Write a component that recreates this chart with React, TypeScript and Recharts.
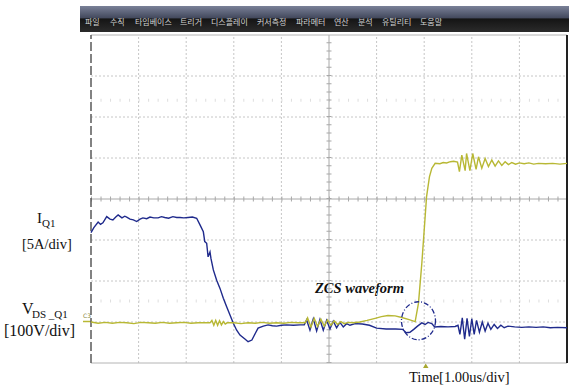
import React from "react";
import { LineChart, Line, XAxis, YAxis, ReferenceLine, ReferenceDot } from "recharts";

// time in µs (1.00 µs/div), amplitude in screen divisions
const timeDivs = [0, 1, 2, 3, 4, 5, 6, 7, 8, 9, 10];
const ampDivs = [0, 1, 2, 3, 4, 5, 6, 7, 8];
const faintTickRows = [6.41, 1.51];

const menuItems = ["파일", "수직", "타임베이스", "트리거", "디스플레이", "커서측정", "파라메터", "연산", "분석", "유틸리티", "도움말"];
const menuX = [85, 110, 135, 180, 211, 257, 296, 334, 358, 382, 420];

// I_Q1 (blue) trace: [time, div]
const iq1Trace: [number, number][] = [
  [0.0, 3.18], [0.06, 3.3], [0.15, 3.44], [0.2, 3.38], [0.25, 3.42], [0.33, 3.57], [0.4, 3.51], [0.46, 3.49],
  [0.52, 3.56], [0.57, 3.61], [0.65, 3.54], [0.71, 3.58], [0.75, 3.56], [0.82, 3.51], [0.89, 3.49], [0.96, 3.45],
  [1.03, 3.51], [1.09, 3.54], [1.17, 3.52], [1.24, 3.56], [1.32, 3.54], [1.41, 3.54], [1.48, 3.57], [1.55, 3.55],
  [1.63, 3.53], [1.72, 3.57], [1.8, 3.55], [1.87, 3.55], [1.95, 3.54], [2.04, 3.55], [2.13, 3.56], [2.22, 3.53],
  [2.29, 3.37], [2.36, 3.2], [2.39, 2.96], [2.43, 2.92], [2.46, 2.59], [2.5, 2.71], [2.52, 2.55], [2.57, 2.27],
  [2.64, 2.02], [2.71, 1.82], [2.78, 1.58], [2.85, 1.37], [2.92, 1.17], [2.99, 0.97], [3.06, 0.8], [3.13, 0.68],
  [3.24, 0.58], [3.3, 0.52], [3.38, 0.56], [3.45, 0.72], [3.51, 0.85], [3.62, 0.9], [3.72, 0.93], [3.81, 0.91],
  [3.9, 0.9], [4.0, 0.92], [4.11, 0.93], [4.25, 0.92], [4.39, 0.93], [4.48, 0.93], [4.53, 1.05], [4.6, 0.8],
  [4.67, 1.08], [4.74, 0.78], [4.81, 1.06], [4.88, 0.8], [4.95, 1.04], [5.02, 0.83], [5.09, 1.02], [5.16, 0.86],
  [5.23, 0.99], [5.3, 0.88], [5.37, 0.96], [5.44, 0.92], [5.55, 0.96], [5.7, 0.95], [5.85, 0.92], [6.0, 0.85],
  [6.2, 0.83], [6.4, 0.83], [6.55, 0.82], [6.62, 0.74], [6.7, 0.75], [6.78, 0.82], [6.86, 0.9], [6.95, 0.98],
  [7.02, 0.94], [7.08, 0.99], [7.16, 0.96], [7.22, 0.88], [7.35, 0.89], [7.5, 0.88], [7.65, 0.89], [7.71, 0.92],
  [7.75, 0.7], [7.8, 1.1], [7.85, 0.58], [7.9, 1.09], [7.95, 0.65], [8.0, 1.08], [8.05, 0.7], [8.1, 1.04],
  [8.16, 0.75], [8.22, 1.0], [8.28, 0.78], [8.34, 0.97], [8.4, 0.82], [8.47, 0.94], [8.54, 0.84], [8.61, 0.92],
  [8.68, 0.86], [8.76, 0.9], [8.9, 0.88], [9.05, 0.87], [9.2, 0.88], [9.35, 0.87], [9.5, 0.88], [9.65, 0.86],
  [9.8, 0.87], [10.0, 0.86],
];

// V_DS_Q1 (yellow) trace: [time, div]
const vdsTrace: [number, number][] = [
  [0.0, 1.0], [0.15, 0.97], [0.3, 0.99], [0.45, 0.97], [0.6, 0.99], [0.75, 0.98], [0.9, 0.96], [1.05, 0.99],
  [1.2, 0.98], [1.35, 0.97], [1.5, 0.99], [1.65, 0.97], [1.8, 0.98], [1.95, 0.99], [2.1, 0.97], [2.25, 0.98],
  [2.4, 0.98], [2.5, 0.98], [2.54, 1.04], [2.58, 0.92], [2.62, 1.04], [2.66, 0.92], [2.7, 1.03], [2.74, 0.93],
  [2.78, 1.01], [2.82, 0.95], [2.86, 0.98], [3.0, 0.98], [3.15, 0.96], [3.3, 0.98], [3.45, 0.97], [3.6, 0.99],
  [3.75, 0.97], [3.9, 0.98], [4.05, 0.97], [4.2, 0.99], [4.35, 0.98], [4.5, 0.98], [4.55, 1.1], [4.62, 0.88],
  [4.69, 1.09], [4.76, 0.89], [4.83, 1.07], [4.9, 0.9], [4.97, 1.05], [5.04, 0.92], [5.11, 1.03], [5.18, 0.94],
  [5.25, 1.01], [5.32, 0.96], [5.4, 0.99], [5.5, 0.98], [5.65, 1.0], [5.8, 1.04], [5.97, 1.09], [6.1, 1.13],
  [6.24, 1.16], [6.39, 1.15], [6.53, 1.11], [6.7, 1.05], [6.81, 1.01], [6.88, 1.46], [6.95, 2.43], [7.0, 3.24],
  [7.05, 4.06], [7.11, 4.54], [7.16, 4.75], [7.23, 4.87], [7.33, 4.86], [7.4, 4.89], [7.47, 4.88], [7.55, 4.91],
  [7.62, 4.92], [7.7, 4.9], [7.74, 4.67], [7.79, 5.07], [7.86, 4.69], [7.89, 5.11], [7.96, 4.69], [8.02, 5.11],
  [8.09, 4.72], [8.14, 5.03], [8.21, 4.75], [8.28, 4.99], [8.35, 4.79], [8.42, 4.95], [8.49, 4.8], [8.56, 4.93],
  [8.63, 4.82], [8.7, 4.91], [8.77, 4.84], [8.84, 4.89], [8.92, 4.85], [9.0, 4.88], [9.1, 4.86], [9.2, 4.88],
  [9.3, 4.85], [9.4, 4.87], [9.55, 4.86], [9.7, 4.87], [9.85, 4.85], [10.0, 4.87],
];

const zcsMarker = { t: 6.88, v: 1.03 };

const BLUE = "#1f2a8c";
const YELLOW = "#b8b834";
const GRID = "#c6c6c6";
const SERIF = "'Liberation Serif', 'Times New Roman', serif";

const iq1Data = iq1Trace.map(([t, v]) => ({ t, v }));
const vdsData = vdsTrace.map(([t, v]) => ({ t, v }));

const EllipseShape = (p: any) => (
  <ellipse
    cx={p.cx}
    cy={p.cy}
    rx={17}
    ry={19}
    fill="none"
    stroke={BLUE}
    strokeWidth={1.3}
    strokeDasharray="5 2 1 2"
  />
);

export default function App() {
  return (
    <div style={{ position: "absolute", left: 0, top: 0, width: 569, height: 385, background: "#fff", overflow: "hidden" }}>
      <svg width={569} height={385} style={{ position: "absolute", left: 0, top: 0 }}>
        <defs>
          <linearGradient id="menuGrad" x1="0" y1="0" x2="0" y2="1">
            <stop offset="0" stopColor="#7a8198" />
            <stop offset="0.45" stopColor="#444a5e" />
            <stop offset="0.5" stopColor="#151515" />
            <stop offset="1" stopColor="#2b2b2b" />
          </linearGradient>
        </defs>
        <rect x={80} y={6} width={489} height={26} fill="url(#menuGrad)" />
        {menuItems.map((m, i) => (
          <text key={m} x={menuX[i]} y={25} fontSize={8} fill="#d2d2d2" fontFamily="'Noto Sans CJK KR', sans-serif">
            {m}
          </text>
        ))}
        <text x={37} y={223} fontSize={15} fontFamily={SERIF} fill="#111">I</text>
        <text x={42} y={227} fontSize={11} fontFamily={SERIF} fill="#111">Q1</text>
        <text x={22} y={249} fontSize={14.5} fontFamily={SERIF} fill="#111">[5A/div]</text>
        <text x={22} y={314} fontSize={16} fontFamily={SERIF} fill="#111">V</text>
        <text x={32} y={318} fontSize={11} fontFamily={SERIF} fill="#111">DS _Q1</text>
        <text x={4} y={336} fontSize={16} fontFamily={SERIF} fill="#111">[100V/div]</text>
        <text x={83} y={318} fontSize={6} fontFamily="'DejaVu Sans', sans-serif" fill="#8a8a40">C3</text>
        <line x1={83} y1={321.5} x2={92} y2={321.5} stroke={YELLOW} strokeWidth={1.5} />
        <text x={315} y={293} fontSize={14.5} fontWeight="bold" fontStyle="italic" fontFamily={SERIF} fill="#111">
          ZCS waveform
        </text>
        <polygon points="423,368 428.5,368 425.7,363.5" fill="#a8a830" />
        <text x={409} y={382} fontSize={14.5} fontFamily={SERIF} fill="#111">Time[1.00us/div]</text>
      </svg>
      <div style={{ position: "absolute", left: 0, top: 0 }}>
        <LineChart width={569} height={385} margin={{ top: 35, right: 2, bottom: 22, left: 91 }}>
          <XAxis type="number" dataKey="t" domain={[0, 10]} ticks={timeDivs} hide allowDuplicatedCategory={false} />
          <YAxis type="number" dataKey="v" domain={[0, 8]} ticks={ampDivs} hide />
          {timeDivs
            .filter((t) => t !== 0 && t !== 10 && t !== 5)
            .map((t) => (
              <ReferenceLine key={"x" + t} x={t} stroke={GRID} strokeDasharray="2 2" />
            ))}
          {ampDivs
            .filter((v) => v !== 0 && v !== 8 && v !== 4)
            .map((v) => (
              <ReferenceLine key={"y" + v} y={v} stroke={GRID} strokeDasharray="2 2" />
            ))}
          {faintTickRows.map((v) => (
            <ReferenceLine key={"f" + v} y={v} stroke="#dedede" strokeWidth={3} strokeDasharray="1 8.52" />
          ))}
          <ReferenceLine y={4} stroke="#a8a8a8" />
          <ReferenceLine y={4} stroke="#a8a8a8" strokeWidth={5} strokeDasharray="1 8.52" />
          <ReferenceLine x={5} stroke="#a8a8a8" />
          <ReferenceLine x={5} stroke="#a8a8a8" strokeWidth={5} strokeDasharray="1 7.2" />
          <ReferenceLine y={8} stroke="#b4b4b4" />
          <ReferenceLine y={0} stroke="#b4b4b4" />
          <ReferenceLine x={0} stroke="#5a5a5a" strokeWidth={1.5} strokeDasharray="9 3" />
          <ReferenceLine x={10} stroke="#222" strokeWidth={2} />
          <Line data={iq1Data} dataKey="v" type="linear" stroke={BLUE} strokeWidth={1.4} dot={false} isAnimationActive={false} />
          <Line data={vdsData} dataKey="v" type="linear" stroke={YELLOW} strokeWidth={1.4} dot={false} isAnimationActive={false} />
          <ReferenceDot x={zcsMarker.t} y={zcsMarker.v} r={18} shape={EllipseShape} />
        </LineChart>
      </div>
    </div>
  );
}
